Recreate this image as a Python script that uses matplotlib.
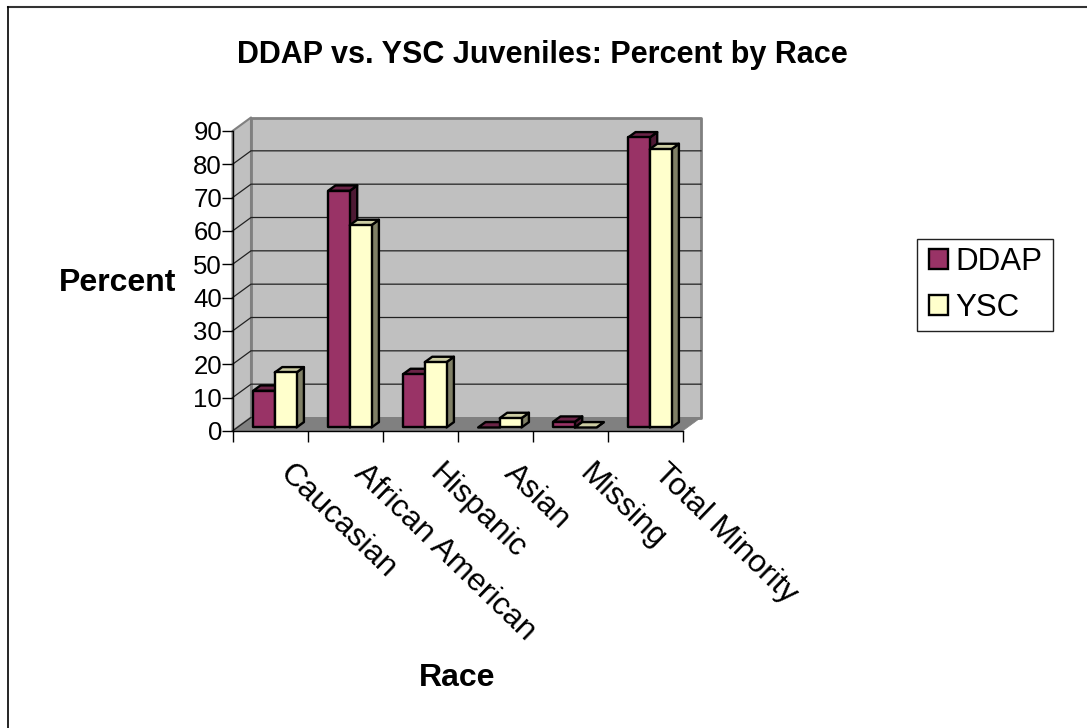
import matplotlib
matplotlib.use('Agg')
import matplotlib.pyplot as plt
from matplotlib.lines import Line2D
from matplotlib.patches import Polygon, Patch, Rectangle
from matplotlib.transforms import ScaledTranslation

plt.rcParams['font.family'] = ['Liberation Sans', 'DejaVu Sans']

categories = ['Caucasian', 'African American', 'Hispanic', 'Asian', 'Missing', 'Total Minority']
ddap = [11, 71, 16, 0, 1.7, 87]
ysc = [16.5, 60.7, 19.6, 2.8, 0, 83.5]
y_ticks = list(range(0, 100, 10))

W, H = 1087, 728
fig = plt.figure(figsize=(W / 100, H / 100), dpi=100, facecolor='white')
ax = fig.add_axes([232.5 / W, 1 - 431 / H, 450 / W, 300 / H])
ax.set_xlim(0, 6)
ax.set_ylim(0, 90)
ax.patch.set_visible(False)

# depth of the fake 3D box, in data units
DX = 18.5 / 75
DY = 13.5 / (300 / 90)


def pt(x, y, t=0.0):
    return (x + DX * t, y + DY * t)


def face(points, color, edge='black', lw=1.0, z=1):
    ax.add_patch(Polygon(points, closed=True, facecolor=color, edgecolor=edge,
                         linewidth=lw, zorder=z, clip_on=False, joinstyle='round'))


# walls and floor
face([pt(0, 0, 1), pt(6, 0, 1), pt(6, 90, 1), pt(0, 90, 1)], '#C0C0C0', '#808080', 2.0)
face([pt(0, 0), pt(0, 0, 1), pt(0, 90, 1), pt(0, 90)], '#C0C0C0', '#808080', 1.5)
face([pt(0, 0), pt(6, 0), pt(6, 0, 1), pt(0, 0, 1)], '#808080', '#808080', 0.5)

for v in y_ticks[1:-1]:
    ax.plot(*zip(pt(0, v), pt(0, v, 1), pt(6, v, 1)), color='#222222', lw=0.9, zorder=2, clip_on=False)
ax.plot(*zip(pt(0, 0), pt(0, 0, 1)), color='#222222', lw=0.9, zorder=2, clip_on=False)

# bars, left to right
BAR_W = 21.7 / 75
T0, T1 = 0.26, 0.66
BAR_LW = 1.7
colors = [('#993366', '#6B2447', '#4D1933'), ('#FFFFCC', '#CCCCA3', '#808066')]
z = 3
for i in range(len(categories)):
    for j, val in enumerate([ddap[i], ysc[i]]):
        x0 = i + 0.5 + (j - 1) * BAR_W
        x1 = x0 + BAR_W
        front, top, side = colors[j]
        if val > 0:
            face([pt(x0, 0, T0), pt(x1, 0, T0), pt(x1, val, T0), pt(x0, val, T0)], front, lw=BAR_LW, z=z + 0.2)
        face([pt(x1, 0, T0), pt(x1, 0, T1), pt(x1, val, T1), pt(x1, val, T0)], side, lw=BAR_LW, z=z)
        face([pt(x0, val, T0), pt(x1, val, T0), pt(x1, val, T1), pt(x0, val, T1)], top, lw=BAR_LW, z=z + 0.1)
        z += 1

# axes and ticks
for s in ['top', 'right']:
    ax.spines[s].set_visible(False)
for s in ['left', 'bottom']:
    ax.spines[s].set_linewidth(1.0)
    ax.spines[s].set_zorder(50)
ax.set_yticks(y_ticks)
ax.set_xticks(range(7))
ax.set_xticklabels([])
ax.set_xticks([i + 0.5 for i in range(6)], minor=True)
ax.set_xticklabels(categories, minor=True, rotation=-44, ha='left', va='top',
                   rotation_mode='anchor', fontsize=22.8)
ax.tick_params(axis='x', which='major', length=8, width=1.0, direction='out')
ax.tick_params(axis='x', which='minor', length=0, pad=20)
ax.tick_params(axis='y', length=8, width=1.0, direction='out', labelsize=18.5, pad=-0.5)
# tick_params resets the label transforms, so shift them afterwards
shift = ScaledTranslation(24 / 100, 0, fig.dpi_scale_trans)
for lab in ax.get_xticklabels(minor=True):
    lab.set_transform(lab.get_transform() + shift)

fig.text(542.5 / W, 1 - 54.5 / H, 'DDAP vs. YSC Juveniles: Percent by Race', fontsize=22, fontweight='bold',
         ha='center', va='center')
fig.text(117.5 / W, 1 - 283.5 / H, 'Percent', fontsize=23, fontweight='bold', ha='center', va='center')
fig.text(457 / W, 1 - 678 / H, 'Race', fontsize=23, fontweight='bold', ha='center', va='center')

handles = [Patch(facecolor='#993366', edgecolor='black', linewidth=BAR_LW),
           Patch(facecolor='#FFFFCC', edgecolor='black', linewidth=BAR_LW)]
fig.legend(handles, ['DDAP', 'YSC'], loc='center', bbox_to_anchor=(985.5 / W, 1 - 285 / H), fontsize=22.5,
           frameon=False, handlelength=0.62, handleheight=0.62,
           handletextpad=0.22, labelspacing=0.52, borderpad=0.28, borderaxespad=0)
# legend box drawn separately, the padding around the entries is not even
fig.add_artist(Rectangle((917 / W, 1 - 331 / H), 136 / W, 92 / H, transform=fig.transFigure,
                         fill=False, edgecolor='#222222', linewidth=1.0))

# chart frame: only the top and left edges are in the picture
fig.add_artist(Line2D([7.5 / W, 1], [1 - 6.5 / H, 1 - 6.5 / H], transform=fig.transFigure, color='#333333', lw=1.5))
fig.add_artist(Line2D([7.5 / W, 7.5 / W], [0, 1 - 6.5 / H], transform=fig.transFigure, color='black', lw=1.2))

fig.savefig('out.png', dpi=100)
